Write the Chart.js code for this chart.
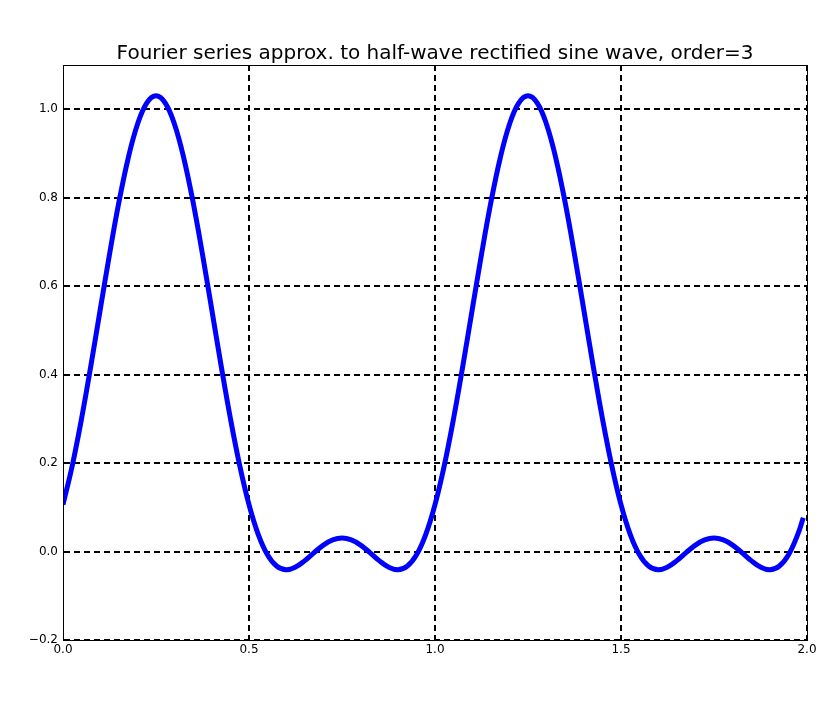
<!DOCTYPE html>
<html>
<head>
<meta charset="UTF-8">
<title>Fourier series approx.</title>
<script src="https://cdn.jsdelivr.net/npm/chart.js"></script>
<style>
    html, body { margin: 0; padding: 0; background: white; }
    #wrap { width: 832px; height: 704px; }
</style>
</head>
<body>
<div id="wrap"><canvas id="fourierChart" width="832" height="704"></canvas></div>
<script>
// valores (t de 0 a 1.99)
var tValues = [
    0.000, 0.025, 0.050, 0.075, 0.100, 0.125, 0.150, 0.175, 0.200, 0.225,
    0.250, 0.275, 0.300, 0.325, 0.350, 0.375, 0.400, 0.425, 0.450, 0.475,
    0.500, 0.525, 0.550, 0.575, 0.600, 0.625, 0.650, 0.675, 0.700, 0.725,
    0.750, 0.775, 0.800, 0.825, 0.850, 0.875, 0.900, 0.925, 0.950, 0.975,
    1.000, 1.025, 1.050, 1.075, 1.100, 1.125, 1.150, 1.175, 1.200, 1.225,
    1.250, 1.275, 1.300, 1.325, 1.350, 1.375, 1.400, 1.425, 1.450, 1.475,
    1.500, 1.525, 1.550, 1.575, 1.600, 1.625, 1.650, 1.675, 1.700, 1.725,
    1.750, 1.775, 1.800, 1.825, 1.850, 1.875, 1.900, 1.925, 1.950, 1.975,
    1.990
];
var approxValues = [
    0.1061, 0.1947, 0.3011, 0.4206, 0.5466, 0.6719, 0.7884, 0.8885, 0.9655, 1.0140,
    1.0305, 1.0140, 0.9655, 0.8885, 0.7884, 0.6719, 0.5466, 0.4206, 0.3011, 0.1947,
    0.1061, 0.0383, -0.0079, -0.0334, -0.0412, -0.0352, -0.0206, -0.0025, 0.0145, 0.0263,
    0.0305, 0.0263, 0.0145, -0.0025, -0.0206, -0.0352, -0.0412, -0.0334, -0.0079, 0.0383,
    0.1061, 0.1947, 0.3011, 0.4206, 0.5466, 0.6719, 0.7884, 0.8885, 0.9655, 1.0140,
    1.0305, 1.0140, 0.9655, 0.8885, 0.7884, 0.6719, 0.5466, 0.4206, 0.3011, 0.1947,
    0.1061, 0.0383, -0.0079, -0.0334, -0.0412, -0.0352, -0.0206, -0.0025, 0.0145, 0.0263,
    0.0305, 0.0263, 0.0145, -0.0025, -0.0206, -0.0352, -0.0412, -0.0334, -0.0079, 0.0383,
    0.0764
];
var xTicks = [0.0, 0.5, 1.0, 1.5, 2.0];
var yTicks = [-0.2, 0.0, 0.2, 0.4, 0.6, 0.8, 1.0];
var chartTitle = 'Fourier series approx. to half-wave rectified sine wave, order=3';

var points = tValues.map(function(t, i) {
    return { x: t, y: approxValues[i] };
});

function fmt(v) {
    return v.toFixed(1).replace('-', '\u2212');
}

// marco completo y titulo centrado sobre el area del grafico
var framePlugin = {
    id: 'frame',
    afterDraw: function(chart) {
        var a = chart.chartArea;
        var ctx = chart.ctx;
        ctx.save();
        ctx.strokeStyle = 'black';
        ctx.lineWidth = 1;
        ctx.strokeRect(a.left + 0.5, a.top + 0.5, a.right - a.left, a.bottom - a.top);
        ctx.fillStyle = 'black';
        ctx.font = '20px "DejaVu Sans"';
        ctx.textAlign = 'center';
        ctx.textBaseline = 'alphabetic';
        ctx.fillText(chartTitle, (a.left + a.right) / 2, 59);
        ctx.restore();
    }
};

Chart.defaults.font.family = 'DejaVu Sans';
Chart.defaults.color = 'black';

var ctx = document.getElementById('fourierChart').getContext('2d');
var chart = new Chart(ctx, {
    type: 'line',
    data: {
        datasets: [{
            data: points,
            borderColor: '#0000ff',
            borderWidth: 5,
            pointRadius: 0,
            tension: 0.4,
            fill: false
        }]
    },
    options: {
        responsive: false,
        animation: false,
        layout: { padding: { left: 0, right: 25, top: 65, bottom: 0 } },
        plugins: {
            legend: { display: false },
            tooltip: { enabled: false },
            title: { display: false }
        },
        scales: {
            x: {
                type: 'linear',
                min: 0,
                max: 2,
                afterBuildTicks: function(scale) {
                    scale.ticks = xTicks.map(function(v) { return { value: v }; });
                },
                afterFit: function(scale) { scale.height = 64; },
                ticks: {
                    color: 'black',
                    font: { size: 12 },
                    padding: 3,
                    maxRotation: 0,
                    callback: function(v) { return fmt(v); }
                },
                grid: {
                    color: function(c) { return c.tick && c.tick.value === 0 ? 'rgba(0,0,0,0)' : 'black'; },
                    lineWidth: 2,
                    drawTicks: false
                },
                border: { display: true, color: 'black', width: 1, dash: [6, 4] }
            },
            y: {
                type: 'linear',
                min: -0.2,
                max: 1.1,
                afterBuildTicks: function(scale) {
                    scale.ticks = yTicks.map(function(v) { return { value: v }; });
                },
                afterFit: function(scale) { scale.width = 63; },
                ticks: {
                    color: 'black',
                    font: { size: 12 },
                    padding: 5,
                    callback: function(v) { return fmt(v); }
                },
                grid: { color: 'black', lineWidth: 2, drawTicks: false },
                border: { display: true, color: 'black', width: 1, dash: [6, 4] }
            }
        }
    },
    plugins: [framePlugin]
});
</script>
</body>
</html>
